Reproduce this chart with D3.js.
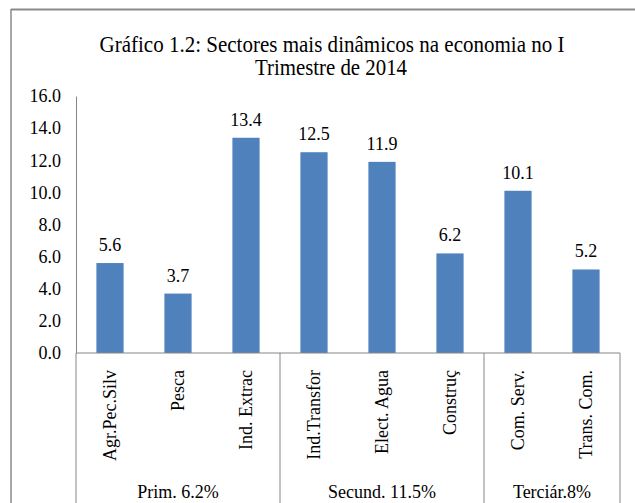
<!DOCTYPE html>
<html>
<head>
<meta charset="utf-8">
<script src="https://cdn.jsdelivr.net/npm/d3@7"></script>
<style>
  body { margin: 0; background: #fff; }
  svg text { font-family: "Liberation Serif", "Times New Roman", serif; fill: #000; }
</style>
</head>
<body>
<svg width="635" height="503"></svg>
<script>
var categories = ["Agr.Pec.Silv", "Pesca", "Ind. Extrac", "Ind.Transfor", "Elect. Agua", "Construç", "Com. Serv.", "Trans. Com."];
var values = [5.6, 3.7, 13.4, 12.5, 11.9, 6.2, 10.1, 5.2];
var groupNames = ["Prim. 6.2%", "Secund. 11.5%", "Terciár.8%"];
var groupSizes = [3, 3, 2];
var yTicks = [0, 2, 4, 6, 8, 10, 12, 14, 16];

var svg = d3.select("svg"),
  width = +svg.attr("width"),
  height = +svg.attr("height");

var serif = "'Liberation Serif', 'Times New Roman', serif";
var plotLeft = 76, plotRight = 620, plotTop = 96, plotBottom = 353;
var axisColor = "#868686";

// chart frame (only top and left edges show in the crop)
svg.append("line").attr("x1", 11).attr("x2", width).attr("y1", 9.5).attr("y2", 9.5)
  .attr("stroke", "#8a8a8a").attr("stroke-width", 2);
svg.append("line").attr("x1", 11).attr("x2", 11).attr("y1", 9).attr("y2", height)
  .attr("stroke", "#8a8a8a").attr("stroke-width", 1.5);

// title, squeezed like the original
var title = svg.append("g").attr("font-family", serif).attr("font-size", 23).attr("text-anchor", "middle");
title.append("text").attr("x", 332).attr("y", 52)
  .attr("textLength", 465).attr("lengthAdjust", "spacingAndGlyphs")
  .text("Gráfico 1.2: Sectores mais dinâmicos na economia no I");
title.append("text").attr("x", 331).attr("y", 75)
  .attr("textLength", 152).attr("lengthAdjust", "spacingAndGlyphs")
  .text("Trimestre de 2014");

var x = d3.scaleBand().domain(categories).range([plotLeft, plotRight])
  .paddingInner(0.6).paddingOuter(0.3);
var y = d3.scaleLinear().domain([0, 16]).range([plotBottom, plotTop]);

// y axis
var yAxis = svg.append("g").attr("transform", "translate(" + plotLeft + ",0)")
  .call(d3.axisLeft(y).tickValues(yTicks).tickFormat(d3.format(".1f")).tickSize(0).tickPadding(15));
yAxis.attr("font-family", serif).attr("font-size", 18);
yAxis.select(".domain").attr("stroke", axisColor);

// bars
svg.append("g").selectAll("rect").data(values).enter().append("rect")
  .attr("x", function(d, i) { return x(categories[i]); })
  .attr("y", function(d) { return y(d); })
  .attr("width", x.bandwidth())
  .attr("height", function(d) { return y(0) - y(d); })
  .attr("fill", "#4f81bd");

// value labels
svg.append("g").attr("font-family", serif).attr("font-size", 18).attr("text-anchor", "middle")
  .selectAll("text").data(values).enter().append("text")
  .attr("x", function(d, i) { return x(categories[i]) + x.bandwidth() / 2; })
  .attr("y", function(d) { return y(d) - 12; })
  .text(function(d) { return d.toFixed(1); });

// category axis line
svg.append("line").attr("x1", plotLeft).attr("x2", plotRight).attr("y1", plotBottom).attr("y2", plotBottom)
  .attr("stroke", axisColor);

// category labels
svg.append("g").attr("font-family", serif).attr("font-size", 18).attr("text-anchor", "end")
  .selectAll("text").data(categories).enter().append("text")
  .attr("transform", function(d) {
    return "translate(" + (x(d) + x.bandwidth() / 2) + ",370) rotate(-90)";
  })
  .attr("dy", "0.35em")
  .text(function(d) { return d; });

// group dividers and labels
var start = 0;
var bounds = [0];
groupSizes.forEach(function(n) { start += n; bounds.push(start); });
svg.append("g").selectAll("line").data(bounds).enter().append("line")
  .attr("x1", function(b) { return plotLeft + b * x.step(); })
  .attr("x2", function(b) { return plotLeft + b * x.step(); })
  .attr("y1", plotBottom).attr("y2", height)
  .attr("stroke", axisColor);

svg.append("g").attr("font-family", serif).attr("font-size", 18).attr("text-anchor", "middle")
  .selectAll("text").data(groupNames).enter().append("text")
  .attr("x", function(d, i) { return plotLeft + (bounds[i] + bounds[i + 1]) / 2 * x.step(); })
  .attr("y", 498)
  .text(function(d) { return d; });
</script>
</body>
</html>
